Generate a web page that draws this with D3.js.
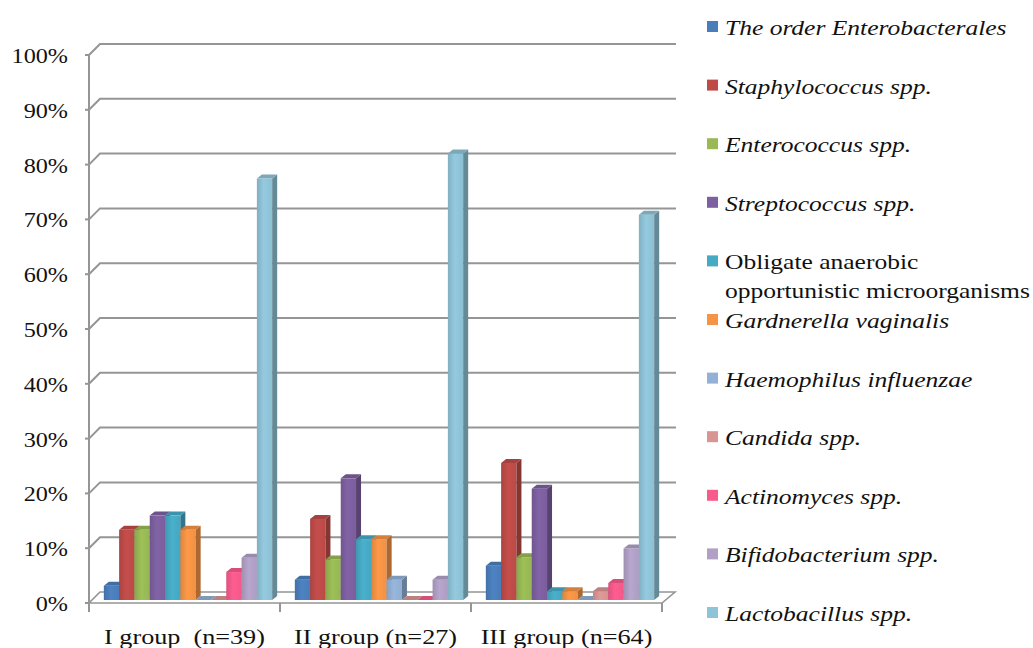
<!DOCTYPE html>
<html>
<head>
<meta charset="utf-8">
<script src="https://cdn.jsdelivr.net/npm/d3@7/dist/d3.min.js"></script>
<style>
  body { margin: 0; background: #fff; }
  svg { display: block; }
</style>
</head>
<body>
<div id="chart"></div>
<script>
// groups on the x axis
var groups = ["I group  (n=39)", "II group (n=27)", "III group (n=64)"];

// series (legend order)
var seriesNames = [
  "The order Enterobacterales",
  "Staphylococcus spp.",
  "Enterococcus spp.",
  "Streptococcus spp.",
  "Obligate anaerobic\nopportunistic microorganisms",
  "Gardnerella vaginalis",
  "Haemophilus influenzae",
  "Candida spp.",
  "Actinomyces spp.",
  "Bifidobacterium spp.",
  "Lactobacillus spp."
];
var seriesItalic = [true, true, true, true, false, true, true, true, true, true, true];
var seriesColors = ["#4A7EBB", "#BE4B48", "#98B954", "#7D60A0", "#46AAC5", "#F59445",
                    "#93B1D6", "#D89593", "#F85A8C", "#B1A0C6", "#8FC3D7"];

// percent values per group, in series order
var valuesI   = [2.6, 12.8, 12.8, 15.4, 15.4, 12.8, 0, 0, 5.1, 7.7, 76.9];
var valuesII  = [3.7, 14.8, 7.4, 22.2, 11.1, 11.1, 3.7, 0, 0, 3.7, 81.5];
var valuesIII = [6.25, 25, 7.8, 20.3, 1.6, 1.6, 0, 1.6, 3.1, 9.4, 70.3];

var yTicks = [0, 10, 20, 30, 40, 50, 60, 70, 80, 90, 100];

var width = 1033, height = 648;
var groupValues = [valuesI, valuesII, valuesIII];
var serif = "'Liberation Serif', 'Times New Roman', Times, serif";

var svg = d3.select("#chart").append("svg")
    .attr("width", width)
    .attr("height", height);

// plot frame (front plane)
var plotL = 89, plotR = 662, plotT = 55, plotB = 603;
var wallDx = 11, wallDy = -11;   // back wall offset
var barDx = 3.5, barDy = -3;     // bars sit a little behind the front
var depX = 5, depY = -4;         // bar thickness

var y = d3.scaleLinear().domain([0, 100]).range([plotB, plotT]);
var x0 = d3.scaleBand().domain(groups).range([plotL, plotR]);
var x1 = d3.scaleBand().domain(d3.range(seriesNames.length))
    .range([0, x0.bandwidth()]).paddingOuter(0.74);

var gridColor = "#959595";

// floor
svg.append("path")
    .attr("d", "M" + plotL + "," + plotB + "L" + plotR + "," + plotB +
               "L" + (plotR + wallDx + 2) + "," + (plotB + wallDy) +
               "L" + (plotL + wallDx) + "," + (plotB + wallDy) + "Z")
    .attr("fill", "#fff")
    .attr("stroke", gridColor)
    .attr("stroke-width", 1.6);

// gridlines on back wall
svg.append("g").selectAll("path")
    .data(yTicks.filter(function(d) { return d > 0; }))
    .enter().append("path")
    .attr("d", function(d) {
      return "M" + plotL + "," + y(d) + "L" + (plotL + wallDx) + "," + (y(d) + wallDy) +
             "L" + (plotR + wallDx + 3) + "," + (y(d) + wallDy);
    })
    .attr("fill", "none")
    .attr("stroke", gridColor)
    .attr("stroke-width", 2);

// y axis line + ticks
svg.append("line")
    .attr("x1", plotL).attr("x2", plotL)
    .attr("y1", plotT).attr("y2", plotB)
    .attr("stroke", gridColor).attr("stroke-width", 2);

svg.append("g").selectAll("line")
    .data(yTicks).enter().append("line")
    .attr("x1", plotL - 4).attr("x2", plotL)
    .attr("y1", function(d) { return y(d); })
    .attr("y2", function(d) { return y(d); })
    .attr("stroke", gridColor).attr("stroke-width", 2);

svg.append("g").selectAll("text")
    .data(yTicks).enter().append("text")
    .attr("transform", function(d) { return "translate(68," + (y(d) + 8) + ") scale(1.1,1)"; })
    .attr("text-anchor", "end")
    .style("font-family", serif)
    .style("font-size", "22px")
    .attr("fill", "#111")
    .text(function(d) { return d + "%"; });

// category ticks below the floor
var catEdges = groups.map(function(g) { return x0(g); }).concat([plotR]);
svg.append("g").selectAll("line")
    .data(catEdges).enter().append("line")
    .attr("x1", function(d) { return d; }).attr("x2", function(d) { return d; })
    .attr("y1", plotB).attr("y2", plotB + 9)
    .attr("stroke", gridColor).attr("stroke-width", 2);

svg.append("g").selectAll("text")
    .data(groups).enter().append("text")
    .attr("transform", function(d) {
      return "translate(" + (x0(d) + x0.bandwidth() / 2) + ",644) scale(1.19,1)";
    })
    .attr("text-anchor", "middle")
    .style("font-family", serif)
    .style("font-size", "22px")
    .style("white-space", "pre")
    .attr("fill", "#111")
    .text(function(d) { return d; });

// gradients for bar fronts
var defs = svg.append("defs");
seriesColors.forEach(function(c, i) {
  var g = defs.append("linearGradient").attr("id", "grad" + i)
      .attr("x1", "0%").attr("x2", "100%").attr("y1", "0%").attr("y2", "0%");
  g.append("stop").attr("offset", "0%").attr("stop-color", d3.color(c).darker(0.3));
  g.append("stop").attr("offset", "45%").attr("stop-color", d3.color(c).brighter(0.1));
  g.append("stop").attr("offset", "100%").attr("stop-color", d3.color(c).darker(0.05));
});

// 3D bars
var bars = [];
groups.forEach(function(g, gi) {
  groupValues[gi].forEach(function(v, si) {
    bars.push({ group: g, series: si, value: v });
  });
});

var barG = svg.append("g");
bars.forEach(function(b) {
  var bx = x0(b.group) + x1(b.series) + barDx;
  var bw = x1.bandwidth();
  var by0 = y(0) + barDy;
  var by1 = y(b.value) + barDy;
  var c = seriesColors[b.series];
  var one = barG.append("g");
  if (b.value > 0) {
    // front face
    one.append("rect")
      .attr("x", bx).attr("y", by1)
      .attr("width", bw).attr("height", by0 - by1)
      .attr("fill", "url(#grad" + b.series + ")");
    // side face
    one.append("path")
      .attr("d", "M" + (bx + bw) + "," + by1 + "L" + (bx + bw + depX) + "," + (by1 + depY) +
                 "L" + (bx + bw + depX) + "," + (by0 + depY) + "L" + (bx + bw) + "," + by0 + "Z")
      .attr("fill", d3.color(c).darker(1));
  }
  // top face
  one.append("path")
    .attr("d", "M" + bx + "," + by1 + "L" + (bx + depX) + "," + (by1 + depY) +
               "L" + (bx + bw + depX) + "," + (by1 + depY) + "L" + (bx + bw) + "," + by1 + "Z")
    .attr("fill", d3.color(c).darker(0.4));
});

// legend
var legend = svg.append("g");
var legY = d3.scaleLinear().domain([0, seriesNames.length - 1]).range([27, 613]);
seriesNames.forEach(function(name, i) {
  var row = legend.append("g").attr("transform", "translate(707," + legY(i) + ")");
  row.append("rect")
    .attr("x", 0).attr("y", -6)
    .attr("width", 11).attr("height", 11)
    .attr("fill", seriesColors[i]);
  var lines = name.split("\n");
  lines.forEach(function(line, li) {
    row.append("text")
      .attr("transform", "translate(18," + (8 + li * 29) + ") scale(1.16,1)")
      .style("font-family", serif)
      .style("font-size", "22px")
      .style("font-style", seriesItalic[i] ? "italic" : "normal")
      .attr("fill", "#111")
      .text(line);
  });
});
</script>
</body>
</html>
